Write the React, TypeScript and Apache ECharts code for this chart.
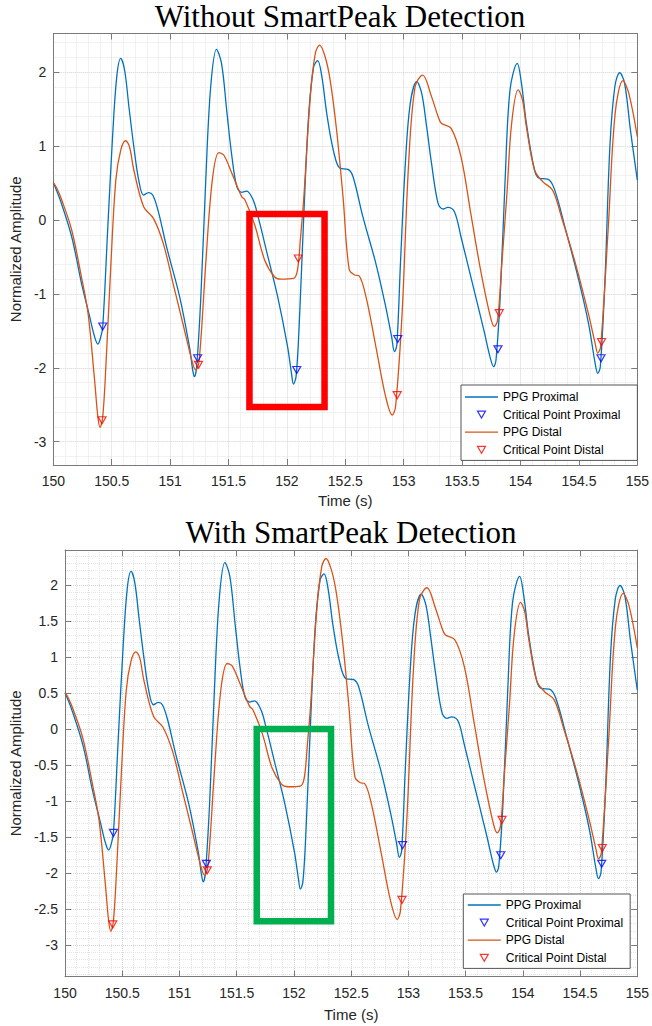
import React, { useEffect, useRef } from 'react';
import * as echarts from 'echarts';

// ---- data ----
const proximalTime = [
  150.0, 150.059, 150.157, 150.241, 150.311, 150.353, 150.381, 150.403, 150.423, 150.465,
  150.507, 150.543, 150.577, 150.61, 150.647, 150.689, 150.731, 150.773, 150.815, 150.851,
  150.899, 150.969, 151.081, 151.165, 151.193, 151.207, 151.227, 151.263, 151.305, 151.347,
  151.397, 151.44, 151.487, 151.529, 151.571, 151.613, 151.655, 151.711, 151.753, 151.837,
  151.921, 152.005, 152.039, 152.056, 152.078, 152.103, 152.145, 152.187, 152.229, 152.263,
  152.299, 152.341, 152.397, 152.454, 152.523, 152.566, 152.65, 152.761, 152.845, 152.896,
  152.921, 152.941, 152.972, 153.014, 153.056, 153.112, 153.154, 153.196, 153.238, 153.294,
  153.336, 153.378, 153.434, 153.49, 153.574, 153.686, 153.742, 153.77, 153.79, 153.826,
  153.868, 153.91, 153.972, 154.008, 154.05, 154.12, 154.162, 154.232, 154.288, 154.387,
  154.498, 154.582, 154.639, 154.661, 154.683, 154.723, 154.765, 154.807, 154.849, 154.891,
  154.941, 155.0,
];
const proximalValue = [
  0.505, 0.27, -0.226, -0.857, -1.308, -1.579, -1.678, -1.6, -1.44, -0.135,
  1.127, 1.94, 2.188, 2.03, 1.533, 0.992, 0.541, 0.338, 0.37, 0.338,
  0.113, -0.361, -1.037, -1.714, -2.03, -2.12, -1.985, -1.037, 0.541, 1.8,
  2.31, 2.12, 1.444, 0.857, 0.451, 0.375, 0.392, 0.271, 0.045, -0.496,
  -1.04, -1.71, -2.075, -2.22, -2.12, -1.49, 0.09, 1.444, 2.075, 2.156,
  1.94, 1.44, 0.947, 0.7, 0.686, 0.586, 0.045, -0.586, -1.17, -1.579,
  -1.78, -1.69, -0.586, 0.767, 1.579, 1.872, 1.714, 1.263, 0.767, 0.226,
  0.149, 0.171, 0.113, -0.226, -0.767, -1.49, -1.872, -1.985, -1.894, -1.037,
  0.541, 1.76, 2.12, 1.85, 1.31, 0.677, 0.564, 0.555, 0.428, -0.135,
  -0.81, -1.4, -1.94, -2.075, -1.985, -0.81, 0.992, 1.8, 1.993, 1.85,
  1.218, 0.54,
];
const distalTime = [
  150.0, 150.03, 150.072, 150.157, 150.24, 150.297, 150.353, 150.381, 150.4, 150.423,
  150.451, 150.493, 150.535, 150.577, 150.619, 150.652, 150.689, 150.773, 150.857, 150.941,
  151.025, 151.109, 151.193, 151.221, 151.249, 151.305, 151.361, 151.417, 151.459, 151.529,
  151.613, 151.641, 151.725, 151.809, 151.893, 151.95, 152.056, 152.09, 152.117, 152.145,
  152.2, 152.243, 152.28, 152.327, 152.37, 152.425, 152.48, 152.532, 152.58, 152.616,
  152.677, 152.761, 152.845, 152.902, 152.93, 152.986, 153.042, 153.097, 153.162, 153.238,
  153.294, 153.322, 153.406, 153.49, 153.574, 153.658, 153.742, 153.776, 153.804, 153.84,
  153.882, 153.924, 153.98, 154.017, 154.05, 154.12, 154.19, 154.274, 154.358, 154.47,
  154.58, 154.639, 154.661, 154.686, 154.75, 154.81, 154.877, 154.927, 155.0,
];
const distalValue = [
  0.505, 0.429, 0.27, -0.135, -0.767, -1.26, -2.165, -2.66, -2.806, -2.66,
  -1.94, -0.586, 0.54, 0.947, 1.073, 0.992, 0.677, 0.18, 0.023, -0.316,
  -0.857, -1.4, -1.94, -2.03, -1.894, -0.586, 0.54, 0.911, 0.88, 0.631,
  0.316, 0.27, -0.07, -0.54, -0.767, -0.8, -0.79, -0.677, -0.226, 0.316,
  1.67, 2.255, 2.368, 2.21, 1.894, 1.218, 0.316, -0.66, -0.744, -0.753,
  -1.04, -1.71, -2.39, -2.64, -2.526, -1.26, 0.767, 1.8, 1.962, 1.67,
  1.4, 1.31, 1.24, 0.857, 0.09, -0.677, -1.31, -1.44, -1.353, -0.586,
  0.316, 1.31, 1.76, 1.624, 1.263, 0.677, 0.519, 0.406, 0.0, -0.586,
  -1.26, -1.67, -1.8, -1.714, -0.135, 1.44, 1.885, 1.714, 1.127,
];

// critical points without SmartPeak
const critProxTime = [150.423, 151.235, 152.084, 152.949, 153.807, 154.689];
const critProxValue = [-1.44, -1.87, -2.03, -1.61, -1.75, -1.87];
const critDistTime = [150.417, 151.243, 152.097, 152.944, 153.818, 154.694];
const critDistValue = [-2.71, -1.96, -0.52, -2.37, -1.26, -1.65];
// critical points with SmartPeak
const smartProxTime = [150.423, 151.235, 152.949, 153.807, 154.689];
const smartProxValue = [-1.44, -1.87, -1.61, -1.75, -1.87];
const smartDistTime = [150.417, 151.243, 152.944, 153.818, 154.694];
const smartDistValue = [-2.71, -1.96, -2.37, -1.26, -1.65];

// highlight boxes [t0, v0, t1, v1]
const redBox = [151.679, 0.081, 152.322, -2.53];
const greenBox = [151.675, 0.0, 152.324, -2.667];

const titles = ['Without SmartPeak Detection', 'With SmartPeak Detection'];
const legendNames = ['PPG Proximal', 'Critical Point Proximal', 'PPG Distal', 'Critical Point Distal'];

// ---- styling ----
const BLUE = '#0072BD';
const ORANGE = '#D95319';
const AXIS = '#7a7a7a';
const TEXT = '#262626';
const SANS = '"Liberation Sans", Arial, sans-serif';
const TRI = 'path://M0,0L10,0L5,8.66Z';
const TRI_LEGEND = 'path://M0,0M16,14M4,3.5L12,3.5L8,10.4Z';
const LINE_LEGEND = 'path://M0,0M33,14M0,6.35L33,6.35L33,7.65L0,7.65Z';

const zip = (t: number[], v: number[]) => t.map((x, i) => [x, v[i]]);

const panels = [
  {
    left: 44.7, top: 33.5, right: 639.5, bottom: 465,
    yMin: -3.315, yMax: 2.524, split: 6,
    titleX: 340, titleY: 16.5, xNameGap: 28, yNameGap: 23,
    legendLeft: 461, legendTop: 385, legendPad: [5, 17, 3, 4],
    prox: [critProxTime, critProxValue], dist: [critDistTime, critDistValue],
    box: redBox, boxColor: '#ff0000',
  },
  {
    left: 55.7, top: 550, right: 644, bottom: 976.7,
    yMin: -3.436, yMax: 2.486, split: 12,
    titleX: 351, titleY: 532, xNameGap: 30, yNameGap: 34,
    legendLeft: 463.3, legendTop: 894, legendPad: [4, 7, 3, 4.5],
    prox: [smartProxTime, smartProxValue], dist: [smartDistTime, smartDistValue],
    box: greenBox, boxColor: '#00b050',
  },
];

function buildOption() {
  const grid: any[] = [];
  const xAxis: any[] = [];
  const yAxis: any[] = [];
  const series: any[] = [];
  const legend: any[] = [];
  const graphic: any[] = [];

  panels.forEach((p, i) => {
    grid.push({ left: p.left, top: p.top, width: p.right - p.left, height: p.bottom - p.top, show: false });
    const common = {
      type: 'value', gridIndex: i,
      axisLine: { show: true, onZero: false, lineStyle: { color: AXIS, width: 1 } },
      axisTick: { show: true, inside: true, length: 6, lineStyle: { color: AXIS } },
    };
    xAxis.push({
      ...common, position: 'bottom', min: 150, max: 155, interval: 0.5,
      axisLabel: { margin: 9, fontSize: 14, color: TEXT, fontFamily: SANS },
      splitLine: { show: true, lineStyle: { color: '#d2d2d2', type: 'dotted', width: 1 } },
      minorTick: { show: false, splitNumber: 5 },
      minorSplitLine: { show: true, lineStyle: { color: '#e4e4e4', type: 'dotted', width: 1 } },
      name: 'Time (s)', nameLocation: 'middle', nameGap: p.xNameGap,
      nameTextStyle: { fontSize: 15, color: TEXT, fontFamily: SANS },
    });
    xAxis.push({
      ...common, position: 'top', min: 150, max: 155, interval: 0.5,
      axisLabel: { show: false }, splitLine: { show: false },
    });
    yAxis.push({
      ...common, position: 'left', min: p.yMin, max: p.yMax, splitNumber: p.split,
      axisLabel: { margin: 7, fontSize: 14, color: TEXT, fontFamily: SANS, showMinLabel: false, showMaxLabel: false },
      splitLine: { show: true, lineStyle: { color: '#d2d2d2', type: 'dotted', width: 1 } },
      minorTick: { show: false, splitNumber: 5 },
      minorSplitLine: { show: true, lineStyle: { color: '#e4e4e4', type: 'dotted', width: 1 } },
      name: 'Normalized Amplitude', nameLocation: 'middle', nameGap: p.yNameGap, nameRotate: 90,
      nameTextStyle: { fontSize: 15, color: TEXT, fontFamily: SANS },
    });
    yAxis.push({
      ...common, position: 'right', min: p.yMin, max: p.yMax, splitNumber: p.split,
      axisLabel: { show: false }, splitLine: { show: false },
    });

    const xi = i * 2;
    series.push({
      type: 'line', name: legendNames[0], xAxisIndex: xi, yAxisIndex: xi,
      data: zip(proximalTime, proximalValue), symbol: 'none', showSymbol: false, smooth: 0.35,
      lineStyle: { color: BLUE, width: 1.3 }, itemStyle: { color: BLUE }, z: 2,
    });
    series.push({
      type: 'scatter', name: legendNames[1], xAxisIndex: xi, yAxisIndex: xi,
      data: zip(p.prox[0], p.prox[1]), symbol: TRI, symbolSize: [8, 7],
      itemStyle: { color: 'rgba(0,0,0,0)', borderColor: '#0000ff', borderWidth: 1.2 }, z: 4,
    });
    series.push({
      type: 'line', name: legendNames[2], xAxisIndex: xi, yAxisIndex: xi,
      data: zip(distalTime, distalValue), symbol: 'none', showSymbol: false, smooth: 0.35,
      lineStyle: { color: ORANGE, width: 1.3 }, itemStyle: { color: ORANGE }, z: 2,
    });
    series.push({
      type: 'scatter', name: legendNames[3], xAxisIndex: xi, yAxisIndex: xi,
      data: zip(p.dist[0], p.dist[1]), symbol: TRI, symbolSize: [8, 7],
      itemStyle: { color: 'rgba(0,0,0,0)', borderColor: '#ff0000', borderWidth: 1.2 }, z: 5,
      markArea: {
        silent: true, z: 10, label: { show: false },
        itemStyle: { color: 'rgba(0,0,0,0)', borderColor: p.boxColor, borderWidth: 6.5 },
        data: [[{ coord: [p.box[0], p.box[1]] }, { coord: [p.box[2], p.box[3]] }]],
      },
    });

    legend.push({
      orient: 'vertical', left: p.legendLeft, top: p.legendTop, padding: p.legendPad,
      itemGap: 3, itemWidth: 33, itemHeight: 14, selectedMode: false,
      backgroundColor: '#ffffff', borderColor: '#555555', borderWidth: 1, borderRadius: 0,
      textStyle: { fontSize: 12, color: '#000', fontFamily: SANS, lineHeight: 14 },
      data: [
        { name: legendNames[0], icon: LINE_LEGEND, itemStyle: { color: BLUE, borderWidth: 0 } },
        { name: legendNames[1], icon: TRI_LEGEND, itemStyle: { color: 'rgba(0,0,0,0)', borderColor: '#0000ff', borderWidth: 1.2 } },
        { name: legendNames[2], icon: LINE_LEGEND, itemStyle: { color: ORANGE, borderWidth: 0 } },
        { name: legendNames[3], icon: TRI_LEGEND, itemStyle: { color: 'rgba(0,0,0,0)', borderColor: '#ff0000', borderWidth: 1.2 } },
      ],
      z: 20,
    });

    graphic.push({
      type: 'text', x: p.titleX, y: p.titleY,
      style: { text: titles[i], font: '31px "Liberation Serif", "Times New Roman", serif', fill: '#000', textAlign: 'center', textVerticalAlign: 'middle' },
    });
  });

  return { animation: false, backgroundColor: '#ffffff', grid, xAxis, yAxis, series, legend, graphic };
}

export default function App() {
  const ref = useRef<HTMLDivElement>(null);
  useEffect(() => {
    document.body.style.margin = '0';
    if (!ref.current) return;
    const chart = echarts.init(ref.current, undefined, { renderer: 'svg' });
    chart.setOption(buildOption() as any);
    return () => chart.dispose();
  }, []);
  return <div ref={ref} style={{ width: 652, height: 1026 }} />;
}
